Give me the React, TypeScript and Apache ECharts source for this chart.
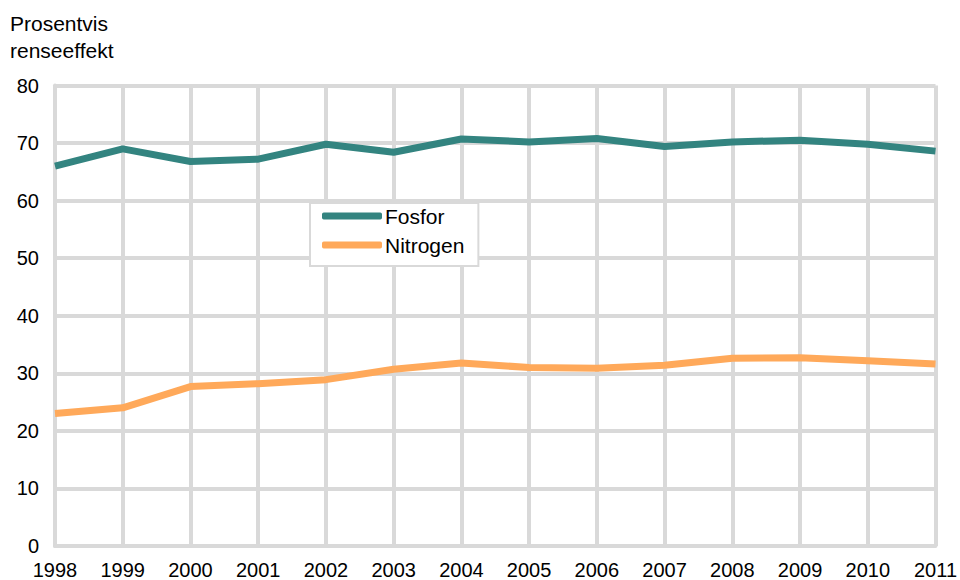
import React, { useEffect, useRef } from "react";
import * as echarts from "echarts";

const years = ["1998","1999","2000","2001","2002","2003","2004","2005","2006","2007","2008","2009","2010","2011"];
const fosfor = [66.0, 69.0, 66.8, 67.2, 69.8, 68.4, 70.7, 70.2, 70.8, 69.4, 70.2, 70.5, 69.8, 68.6];
const nitrogen = [23.0, 24.0, 27.7, 28.2, 28.9, 30.7, 31.8, 31.0, 30.9, 31.4, 32.6, 32.7, 32.2, 31.6];
const titleLines = ["Prosentvis", "renseeffekt"];

const FONT = "Liberation Sans, Arial, sans-serif";
const GRID = "#d9d9d9";

export default function App() {
  const ref = useRef<HTMLDivElement>(null);
  useEffect(() => {
    document.body.style.margin = "0";
    const chart = echarts.init(ref.current!, null, { renderer: "svg" });
    chart.setOption({
      animation: false,
      backgroundColor: "#ffffff",
      textStyle: { fontFamily: FONT },
      grid: { left: 55, right: 23, top: 85.5, bottom: 33 },
      graphic: titleLines.map((t, i) => ({
        type: "text",
        left: 10,
        top: 13 + i * 26.5,
        style: { text: t, font: `21px ${FONT}`, fill: "#000" },
      })),
      legend: {
        orient: "vertical",
        left: 310,
        top: 203,
        backgroundColor: "#ffffff",
        borderColor: GRID,
        borderWidth: 2,
        borderRadius: 0,
        padding: [0, 14, 8, 12],
        itemGap: 3,
        itemWidth: 60,
        itemHeight: 7,
        icon: "roundRect",
        textStyle: { fontSize: 21, fontFamily: FONT, color: "#000", padding: [4, 0, 0, -2], lineHeight: 22 },
        data: ["Fosfor", "Nitrogen"],
      },
      xAxis: {
        type: "category",
        data: years,
        boundaryGap: false,
        axisLine: { show: true, lineStyle: { color: GRID, width: 4 } },
        axisTick: { show: false },
        splitLine: { show: true, lineStyle: { color: GRID, width: 4 } },
        axisLabel: { color: "#000", fontSize: 20, fontFamily: FONT, margin: 14 },
      },
      yAxis: {
        type: "value",
        min: 0,
        max: 80,
        interval: 10,
        axisLine: { show: true, lineStyle: { color: GRID, width: 4 } },
        axisTick: { show: false },
        splitLine: { show: true, lineStyle: { color: GRID, width: 4 } },
        axisLabel: { color: "#000", fontSize: 20, fontFamily: FONT, margin: 16 },
      },
      series: [
        {
          name: "Fosfor",
          type: "line",
          data: fosfor,
          showSymbol: false,
          color: "#338480",
          lineStyle: { width: 7, color: "#338480" },
        },
        {
          name: "Nitrogen",
          type: "line",
          data: nitrogen,
          showSymbol: false,
          color: "#ffa95a",
          lineStyle: { width: 7, color: "#ffa95a" },
        },
      ],
    });
    return () => chart.dispose();
  }, []);
  return <div ref={ref} style={{ width: 960, height: 580 }} />;
}
